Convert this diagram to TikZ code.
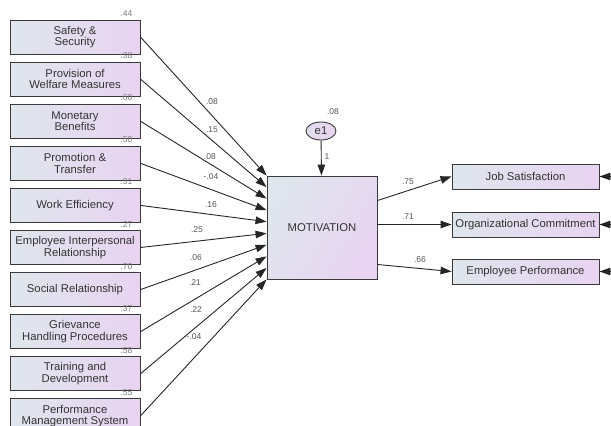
\documentclass[tikz,border=0pt]{standalone}
\usepackage{fontspec}
\setmainfont{Liberation Sans}
\usetikzlibrary{arrows.meta,shapes.geometric,positioning,calc}
\definecolor{boxleftcolor}{HTML}{DFE6ED}
\definecolor{boxrightcolor}{HTML}{E8D3F1}
\definecolor{framecolor}{HTML}{3A3A3A}
\definecolor{varcolor}{HTML}{7A7A7A}
\definecolor{weightcolor}{HTML}{555555}

\begin{document}
\begin{tikzpicture}[
	x=1pt, y=-1pt,
	observed/.style={draw=framecolor, line width=0.9pt, left color=boxleftcolor,
		right color=boxrightcolor, inner sep=1pt, align=center, text=black!80,
		font=\fontsize{11.3}{11.6}\selectfont},
	errorterm/.style={ellipse, draw=framecolor, line width=0.9pt,
		left color=boxleftcolor!60!boxrightcolor, right color=boxrightcolor,
		inner sep=0pt, minimum width=30pt, minimum height=18pt, text=black!80,
		font=\fontsize{11.3}{12}\selectfont},
	weight/.style={inner sep=0pt, text=weightcolor, font=\fontsize{8.5}{9}\selectfont},
	variance/.style={inner sep=0pt, anchor=east, text=varcolor, font=\fontsize{8.5}{9}\selectfont},
	regression/.style={draw=black!85, line width=0.9pt, -{Triangle[length=11pt, width=7.5pt]}},
	node distance=7.2pt,
]
\useasboundingbox (0,0) rectangle (611,426);
% Input 1: variance printed above the top right corner.
\def\indicator#1[#2](#3)#4{
	\node[observed, minimum width=130pt, minimum height=34pt, #2] (#3) {#4};
	\node[variance] at ([xshift=-8pt, yshift=6pt]#3.north east) (#3var) {#1};
}
% Input 1: endpoint on the left side of MOTIVATION (0 = top, 1 = bottom).
\def\connectmot#1#2{
	\draw[regression] (#2.east) -- ($(mot.north west)!#1!(mot.south west)$);
}
	\indicator{.44}[at={(75,37)}](SS){Safety \&\\Security}
	\indicator{.38}[below=of SS](PWM){Provision of\\Welfare Measures}
	\indicator{.60}[below=of PWM](MB){Monetary\\Benefits}
	\indicator{.50}[below=of MB](PT){Promotion \&\\Transfer}
	\indicator{.31}[below=of PT](WE){Work Efficiency}
	\indicator{.27}[below=of WE](EIR){Employee Interpersonal\\Relationship}
	\indicator{.70}[below=of EIR](SR){Social Relationship}
	\indicator{.37}[below=of SR](GHP){Grievance\\Handling Procedures}
	\indicator{.58}[below=of GHP](TD){Training and\\Development}
	\indicator{.55}[below=of TD](PMS){Performance\\Management System}

	\node[observed, minimum width=110pt, minimum height=103pt,
		shading angle=60] at (322,227.5) (mot) {MOTIVATION};
	\node[errorterm] at (321,131) (e1) {e1};
	\node[weight] at (333,112) (e1var) {.08};
	\draw[regression] (e1) -- (mot) node[weight, pos=0.45, right=3pt] (e1w) {1};

	\connectmot{0}{SS}
	\connectmot{0.111}{PWM}
	\connectmot{0.222}{MB}
	\connectmot{0.333}{PT}
	\connectmot{0.444}{WE}
	\connectmot{0.556}{EIR}
	\connectmot{0.667}{SR}
	\connectmot{0.778}{GHP}
	\connectmot{0.889}{TD}
	\connectmot{1}{PMS}
	\node[weight] at (212,102) (wSS) {.08};
	\node[weight] at (212,130) (wPWM) {.15};
	\node[weight] at (210,157) (wMB) {.08};
	\node[weight] at (211,177) (wPT) {-.04};
	\node[weight] at (211,205) (wWE) {.16};
	\node[weight] at (197,230) (wEIR) {.25};
	\node[weight] at (196,258) (wSR) {.06};
	\node[weight] at (195,283) (wGHP) {.21};
	\node[weight] at (196,310) (wTD) {.22};
	\node[weight] at (194,337) (wPMS) {-.04};

	\node[observed, minimum width=147pt, minimum height=25pt] at (525.5,176.5) (JS) {Job Satisfaction};
	\node[observed, minimum width=147pt, minimum height=25pt] at (525.5,224.5) (OC) {Organizational Commitment};
	\node[observed, minimum width=147pt, minimum height=25pt] at (525.5,271.5) (EP) {Employee Performance};
	\draw[regression] ([yshift=27pt]mot.east) -- (JS.west);
	\draw[regression] ([yshift=3pt]mot.east) -- (OC.west);
	\draw[regression] ([yshift=-37pt]mot.east) -- (EP.west);
	\node[weight] at (408,182) (wJS) {.75};
	\node[weight] at (408,217) (wOC) {.71};
	\node[weight] at (420,260) (wEP) {.66};
	% error terms of the outcomes lie beyond the right edge
	\coordinate (JSerr) at (640,176.5);
	\coordinate (OCerr) at (640,224.5);
	\coordinate (EPerr) at (640,271.5);
	\draw[regression] (JSerr) -- (JS.east);
	\draw[regression] (OCerr) -- (OC.east);
	\draw[regression] (EPerr) -- (EP.east);
\end{tikzpicture}
\end{document}
